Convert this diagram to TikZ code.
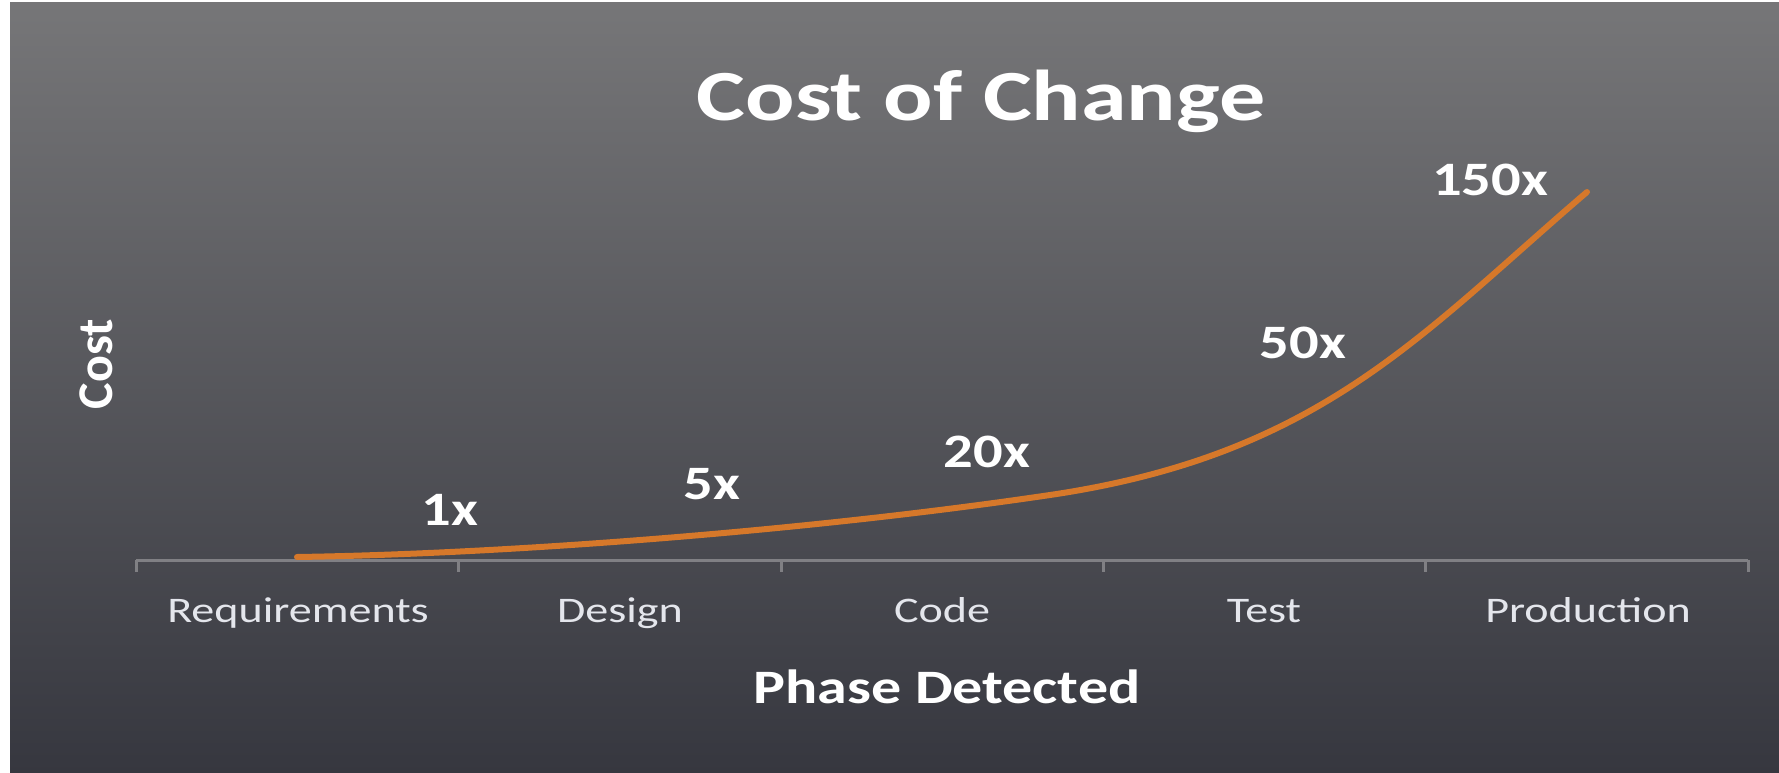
\documentclass[tikz,border=0pt]{standalone}
\usepackage{fontspec}
\setmainfont{Carlito}
\definecolor{bgtop}{RGB}{118,118,120}
\definecolor{bgbot}{RGB}{54,55,63}
\definecolor{curvec}{RGB}{214,120,42}
\definecolor{axisc}{RGB}{128,128,132}
\definecolor{labc}{RGB}{228,230,236}
\begin{document}
\begin{tikzpicture}[x=1pt,y=-1pt,
  titletxt/.style={text=white,font=\fontsize{72}{80}\bfseries\selectfont,inner sep=0pt,xscale=1.28,anchor=base},
  axtitle/.style={text=white,font=\fontsize{48}{56}\bfseries\selectfont,inner sep=0pt,xscale=1.25,anchor=base},
  cattxt/.style={text=labc,font=\fontsize{36}{42}\selectfont,inner sep=0pt,xscale=1.28,anchor=base},
  valtxt/.style={text=white,font=\fontsize{48}{56}\bfseries\selectfont,inner sep=0pt,xscale=1.22,anchor=base},
  axisline/.style={draw=axisc,line width=3pt},
  costcurve/.style={draw=curvec,line width=6pt,line cap=round}]
\useasboundingbox (0,0) rectangle (1779,773);
\fill[white] (0,0) rectangle (1779,773);
\shade[top color=bgtop,bottom color=bgbot] (10,3) rectangle (1779,773);
% title
\node[titletxt] (title) at (981,121) {Cost of Change};
% axis
\coordinate (t0) at (136,560);
\coordinate (t1) at (458,560);
\coordinate (t2) at (781,560);
\coordinate (t3) at (1103,560);
\coordinate (t4) at (1425,560);
\coordinate (t5) at (1748,560);
\draw[axisline] (t0) -- (t5);
\foreach \t in {t0,t1,t2,t3,t4,t5} \draw[axisline] (\t) -- ++(0,12);
% categories
\node[cattxt] (req) at (298,622) {Requirements};
\node[cattxt] (des) at (620,622) {Design};
\node[cattxt] (cod) at (942,622) {Code};
\node[cattxt] (tst) at (1264,622) {Test};
\node[cattxt] (prd) at (1588,622) {Production};
\node[axtitle] (xlab) at (947,703) {Phase Detected};
\node[text=white,font=\fontsize{50}{56}\bfseries\selectfont,inner sep=0pt,rotate=90] (ylab) at (96,364) {Cost};
% curve
\coordinate (c0) at (297,557);
\coordinate (c1) at (1050,495);
\coordinate (c2) at (1587,192);
\draw[costcurve] (c0) .. controls (500,554) and (800,532) .. (c1)
                      .. controls (1320,455) and (1420,335) .. (c2);
% values
\node[valtxt] (v1) at (450,525) {1x};
\node[valtxt] (v5) at (712,499) {5x};
\node[valtxt] (v20) at (987,467) {20x};
\node[valtxt] (v50) at (1303,358) {50x};
\node[valtxt] (v150) at (1490,195) {150x};
\end{tikzpicture}
\end{document}
